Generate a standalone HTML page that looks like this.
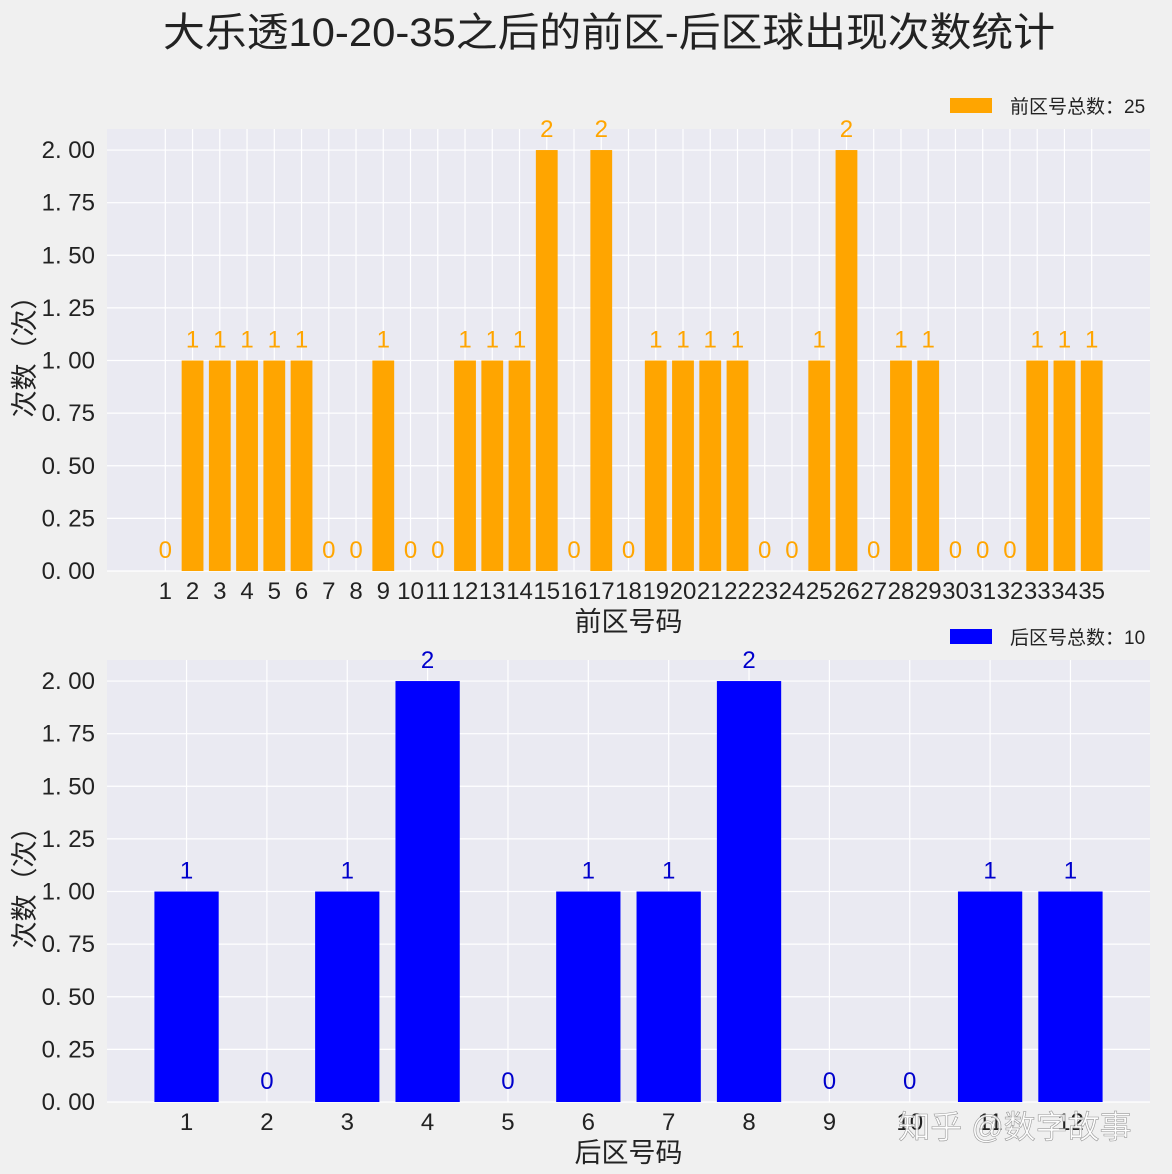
<!DOCTYPE html>
<html><head><meta charset="utf-8"><style>
body{margin:0;background:#f0f0f0;}
svg{display:block;font-family:"Liberation Sans","Noto Sans CJK SC",sans-serif;}
</style></head><body>
<svg id="c" width="1172" height="1174" xmlns="http://www.w3.org/2000/svg">
<rect width="1172" height="1174" fill="#f0f0f0"/>
<text x="163" y="46" font-size="40" textLength="892" lengthAdjust="spacingAndGlyphs" fill="#222">大乐透10-20-35之后的前区-后区球出现次数统计</text>
</svg>
<script>
const frontCats=[];for(let i=1;i<=35;i++)frontCats.push(i);
const frontVals=[0,1,1,1,1,1,0,0,1,0,0,1,1,1,2,0,2,0,1,1,1,1,0,0,1,2,0,1,1,0,0,0,1,1,1];
const backCats=[1,2,3,4,5,6,7,8,9,10,11,12];
const backVals=[1,0,1,2,0,1,1,2,0,0,1,1];
const yTicks=[0,0.25,0.5,0.75,1,1.25,1.5,1.75,2];
const NS="http://www.w3.org/2000/svg";
const svg=document.getElementById('c');
function mk(t,a,p){const e=document.createElementNS(NS,t);for(const k in a)e.setAttribute(k,a[k]);(p||svg).appendChild(e);return e;}
function panel(cats,vals,color,labelColor,top,bottom,xlabel,legend,name){
  const L=107,R=1150;
  const n=cats.length;
  const x0=cats[0]-0.4,x1=cats[n-1]+0.4,m=(x1-x0)*0.05;
  const xmin=x0-m,xmax=x1+m;
  const ymax=Math.max(...vals)*1.05;
  const xs=v=>L+(v-xmin)/(xmax-xmin)*(R-L);
  const ys=v=>bottom-v/ymax*(bottom-top);
  const g=mk('g',{});
  
  
  const bg=mk('rect',{x:L,y:top,width:R-L,height:bottom-top,fill:'#eaeaf2'},g);
  
  
  yTicks.forEach(t=>{
    mk('line',{x1:L,x2:R,y1:ys(t),y2:ys(t),stroke:'#fff','stroke-width':1.2},g);
    const tx=mk('text',{x:L-12,y:ys(t)+8,'font-size':24,'text-anchor':'end',fill:'#222'},g);
    tx.textContent=t.toFixed(2).replace('.','. ');
    
    
  });
  cats.forEach(c=>{
    mk('line',{x1:xs(c),x2:xs(c),y1:top,y2:bottom,stroke:'#fff','stroke-width':1.2},g);
    const tx=mk('text',{x:xs(c),y:bottom+28,'font-size':24,'text-anchor':'middle',fill:'#222'},g);
    tx.textContent=c;
    
    
  });
  const bw=(xs(1.4)-xs(0.6));
  vals.forEach((v,i)=>{
    const c=cats[i];
    if(v>0){
      const r=mk('rect',{x:xs(c)-bw/2,y:ys(v),width:bw,height:ys(0)-ys(v),fill:color},g);
      
      
    }
    const t=mk('text',{x:xs(c),y:ys(v)-13,'font-size':24,'text-anchor':'middle',fill:labelColor},g);
    t.textContent=v;
    
    
  });
  const xl=mk('text',{x:(L+R)/2,y:bottom+60,'font-size':27,'text-anchor':'middle',fill:'#222'},g);
  xl.textContent=xlabel;
  
  
  const yl=mk('text',{x:0,y:0,'font-size':27,'text-anchor':'middle',fill:'#222',transform:`translate(34,${(top+bottom)/2}) rotate(-90)`},g);
  yl.textContent='次数（次）';
  
  
  const lg=mk('g',{},g);
  
  
  mk('rect',{x:950,y:top-31,width:42,height:15,fill:color},lg);
  const lt=mk('text',{x:1010,y:top-16,'font-size':19,fill:'#222'},lg);
  lt.textContent=legend;
}
panel(frontCats,frontVals,'#ffa500','#ffa500',129,571,'前区号码','前区号总数：'+frontVals.reduce((a,b)=>a+b,0),'front');
panel(backCats,backVals,'#0000ff','#0000cc',660,1102,'后区号码','后区号总数：'+backVals.reduce((a,b)=>a+b,0),'back');
const wm=mk('text',{x:1015,y:1138,'font-size':32,'text-anchor':'middle',fill:'#ffffff','fill-opacity':0.85,stroke:'#999','stroke-width':0.6});
wm.textContent='知乎 @数字故事';


</script>
</body></html>
